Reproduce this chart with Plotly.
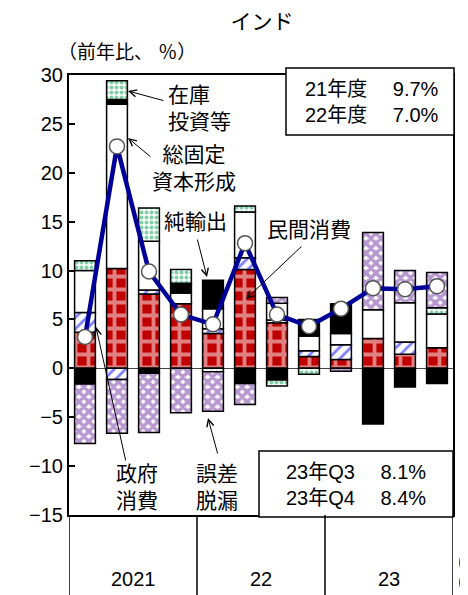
import plotly.graph_objects as go

# quarters (calendar), contributions to real GDP growth (% pt)
quarters = ["21Q1", "21Q2", "21Q3", "21Q4", "22Q1", "22Q2", "22Q3", "22Q4",
            "23Q1", "23Q2", "23Q3", "23Q4"]
year_labels = ["2021", "22", "23"]

private_cons = [3.7, 10.2, 7.6, 6.6, 3.55, 10.1, 4.65, 1.2, 0.9, 3.05, 1.45, 2.1]
gov_cons = [2.0, -1.15, 0.4, 0, 0.5, 1.2, 0.3, 0.6, 1.5, 0, 1.25, 0]
gfcf = [4.3, 16.8, 5.0, 1.1, 2.05, 4.7, 1.7, 1.5, 1.15, 2.95, 4.0, 3.45]
net_exports = [-1.6, 0.5, -0.5, 1.0, 2.9, -1.55, -1.2, 1.7, 3.05, -5.7, -1.9, -1.55]
inventories = [1.0, 1.9, 3.4, 1.4, -0.35, 0.6, -0.6, -0.6, 0, 0, 0, 0.65]
discrepancy = [-6.1, -5.5, -6.05, -4.55, -4.05, -2.15, 0.6, 0, -0.3, 7.9, 3.3, 3.6]
gdp = [3.2, 22.7, 9.9, 5.5, 4.5, 12.8, 5.5, 4.3, 6.1, 8.2, 8.1, 8.4]

FONT = "Liberation Sans, Noto Sans CJK JP"

# the page has an 8px body margin, figure is shifted by it
OFF = 8
W, H = 468 - OFF, 595 - OFF
# plot area in page pixels
L, T, PW, PH = 69, 75, 384, 440


def px_x(px):
    return (px - L) / PW


def px_y(py):
    return (T + PH - py) / PH


def nz(vals):
    return [v if v != 0 else None for v in vals]


fig = go.Figure()

series = [
    (private_cons, dict(shape="+", fgcolor="white", bgcolor="#C00000", size=13, solidity=0.5)),
    (gov_cons, dict(shape="/", fgcolor="#0000FF", bgcolor="white", size=8, solidity=0.35)),
    (gfcf, None),
    (net_exports, None),
    (inventories, dict(shape=".", fgcolor="#00A050", bgcolor="white", size=5, solidity=0.5)),
    (discrepancy, dict(shape="x", fgcolor="#7030A0", bgcolor="white", size=7, solidity=0.75)),
]
solid = [None, None, "white", "black", None, None]

for (vals, pat), col in zip(series, solid):
    marker = dict(line=dict(color="black", width=1.5))
    if pat is None:
        marker["color"] = col
    else:
        marker["color"] = pat["bgcolor"]
        marker["pattern"] = pat
    fig.add_trace(go.Bar(x=quarters, y=nz(vals), width=0.65, marker=marker,
                         showlegend=False, hoverinfo="skip"))

fig.add_trace(go.Scatter(
    x=quarters, y=gdp, mode="lines+markers",
    line=dict(color="#000099", width=4.5),
    marker=dict(size=15, color="white", line=dict(color="#555555", width=1.5)),
    showlegend=False, hoverinfo="skip"))

annotations = []


def label(text, x, y, size=21, align="center", xanchor="center"):
    annotations.append(dict(text=text, x=px_x(x), y=px_y(y), xref="paper", yref="paper",
                            showarrow=False, align=align, xanchor=xanchor, yanchor="middle",
                            font=dict(family=FONT, size=size, color="black")))


def arrow(hx, hy, tx, ty):
    annotations.append(dict(text="", x=px_x(hx), y=px_y(hy), xref="paper", yref="paper",
                            ax=tx - hx, ay=ty - hy, axref="pixel", ayref="pixel",
                            showarrow=True, arrowhead=5, arrowsize=1.4, arrowwidth=1,
                            arrowcolor="black"))


label("在庫<br>投資等", 166, 108, align="left", xanchor="left")
arrow(128, 91, 165, 101)
label("総固定<br>資本形成", 194, 168)
arrow(128, 138, 152, 158)
label("純輸出", 195, 221)
arrow(207, 277, 197, 238)
label("民間消費", 309, 229)
arrow(246, 299, 303, 245)
label("政府<br>消費", 137, 487)
arrow(96, 327, 126, 462)
label("誤差<br>脱漏", 217, 487)
arrow(208, 418, 218, 455)

label("21年度　 9.7%<br>22年度　 7.0%", 372, 102, size=20)
label("23年Q3　 8.1%<br>23年Q4　 8.4%", 356, 485, size=20)
label("（前年比、 ％）", 56, 52, size=19, align="left", xanchor="left")

for i, yl in enumerate(year_labels):
    annotations.append(dict(text=yl, x=4 * i + 1.5, y=px_y(579), xref="x", yref="paper",
                            yanchor="middle", showarrow=False,
                            font=dict(family=FONT, size=20, color="black")))
label("(", 456, 561, size=20, xanchor="left", align="left")
label("(", 456, 581, size=20, xanchor="left", align="left")

shapes = [
    dict(type="rect", xref="paper", yref="paper", x0=px_x(286), x1=px_x(454),
         y0=px_y(135), y1=px_y(68), fillcolor="white", line=dict(color="black", width=1.5),
         layer="above"),
    dict(type="rect", xref="paper", yref="paper", x0=px_x(259), x1=px_x(453),
         y0=px_y(517), y1=px_y(451), fillcolor="white", line=dict(color="black", width=1.5),
         layer="above"),
]
for xb in [-0.5, 3.5, 7.5, 11.5]:
    shapes.append(dict(type="line", xref="x", yref="paper", x0=xb, x1=xb, y0=0, y1=-0.25,
                       line=dict(color="black", width=1.5)))

fig.update_layout(
    width=W, height=H,
    margin=dict(l=L - OFF, r=W - (L - OFF) - PW, t=T - OFF, b=H - (T - OFF) - PH),
    barmode="relative",
    bargap=0.35,
    plot_bgcolor="white", paper_bgcolor="white",
    title=dict(text="インド", x=px_x(262), xref="paper", y=1 - (22 - OFF) / H, yref="container",
               xanchor="center", yanchor="middle",
               font=dict(family=FONT, size=21, color="black")),
    xaxis=dict(range=[-0.5, 11.5], showticklabels=False, ticks="", showgrid=False,
               zeroline=False, showline=True, mirror=True, linecolor="black", linewidth=2),
    yaxis=dict(range=[-15, 30], dtick=5, tick0=0, ticks="inside", ticklen=6,
               tickwidth=1.5, tickcolor="black", showgrid=False,
               zeroline=True, zerolinecolor="#444444", zerolinewidth=1,
               showline=True, mirror=True, linecolor="black", linewidth=2,
               tickfont=dict(family=FONT, size=20, color="black")),
    annotations=annotations,
    shapes=shapes,
    font=dict(family=FONT, color="black"),
)

fig.write_html("out.html")
